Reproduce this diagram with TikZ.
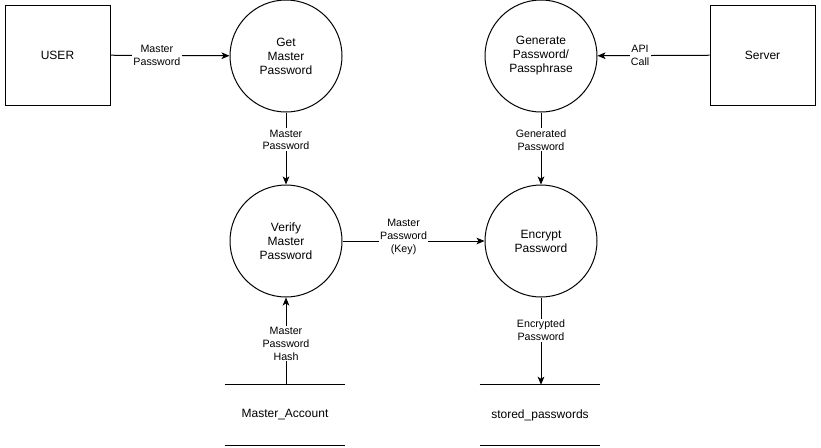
\documentclass[tikz,border=0pt]{standalone}
\usepackage{fontspec}
\setmainfont{Liberation Sans}
\usetikzlibrary{arrows.meta,positioning}

\begin{document}
\begin{tikzpicture}[x=0.75pt, y=-0.75pt,
      entity/.style={draw, line width=0.75pt, minimum width=78.75pt,
                     minimum height=75pt, inner sep=0pt, font=\fontsize{9}{10.5}\selectfont},
      proc/.style={draw, circle, line width=0.75pt, minimum size=84pt,
                   inner sep=0pt, align=center, font=\fontsize{9}{10.5}\selectfont},
      store/.style={minimum width=90pt, minimum height=45pt, inner sep=0pt,
                    font=\fontsize{9}{10.5}\selectfont},
      flow/.style={-{Stealth[length=6pt, width=5pt, inset=1.5pt]}, line width=0.75pt},
      lbl/.style={fill=white, align=center, inner sep=1pt,
                  font=\fontsize{8}{9.5}\selectfont}]
    \useasboundingbox (0,0) rectangle (821,447);

    % external entities
    \node[entity] (user) at (57.5,55) {USER};
    \node[entity] (server) at (762.5,55) {Server};

    % processes
    \node[proc] (get) at (286,56) {Get\\Master\\Password};
    \node[proc] (gen) at (541,56) {Generate\\Password/\\Passphrase};
    \node[proc] (verify) at (286,241) {Verify\\Master\\Password};
    \node[proc] (encrypt) at (541,241) {Encrypt\\Password};

    % data stores
    \node[store] (acct) at (285,415) {Master\_Account};
    \node[store] (pwds) at (540,415) {stored\_passwords};
    \draw[line width=0.75pt] (acct.north west) -- (acct.north east);
    \draw[line width=0.75pt] (acct.south west) -- (acct.south east);
    \draw[line width=0.75pt] (pwds.north west) -- (pwds.north east);
    \draw[line width=0.75pt] (pwds.south west) -- (pwds.south east);

    % data flows
    \draw[flow] (user) -- node[lbl, pos=0.39] {Master\\Password} (get);
    \draw[flow] (server) -- node[lbl, pos=0.62] {API\\Call} (gen);
    \draw[flow] (get) -- node[lbl, pos=0.38] {Master\\Password} (verify);
    \draw[flow] (gen) -- node[lbl, pos=0.38] {Generated\\Password} (encrypt);
    \draw[flow] (verify) -- node[lbl, pos=0.43, yshift=3pt] {Master\\Password\\(Key)} (encrypt);
    \draw[flow] (acct.north -| verify) -- node[lbl, pos=0.47] {Master\\Password\\Hash} (verify);
    \draw[flow] (encrypt) -- node[lbl, pos=0.375] {Encrypted\\Password} (pwds.north -| encrypt);
\end{tikzpicture}
\end{document}
